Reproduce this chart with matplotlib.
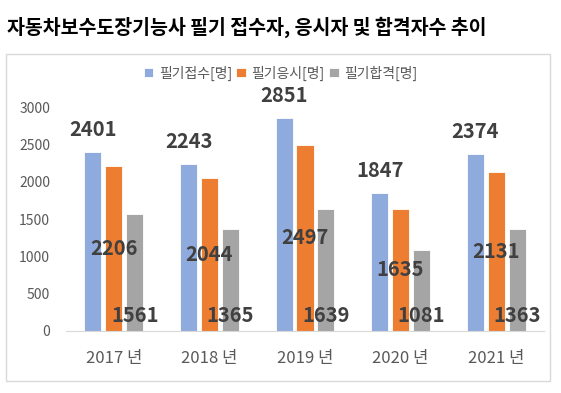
import numpy as np
import matplotlib.pyplot as plt
from matplotlib.patches import Rectangle

plt.rcParams['font.family'] = ['Noto Sans CJK KR', 'DejaVu Sans']

# 데이터
years = ['2017 년', '2018 년', '2019 년', '2020 년', '2021 년']
applied = [2401, 2243, 2851, 1847, 2374]   # 필기접수
tested = [2206, 2044, 2497, 1635, 2131]    # 필기응시
passed = [1561, 1365, 1639, 1081, 1363]    # 필기합격
series_names = ['필기접수[명]', '필기응시[명]', '필기합격[명]']
colors = ['#8FAADC', '#ED7D31', '#A5A5A5']

W, H = 561, 393
fig = plt.figure(figsize=(W / 100, H / 100), dpi=100)

# 차트 테두리
fig.patches.append(Rectangle((6 / W, 1 - 381 / H), 544 / W, 327 / H,
                             transform=fig.transFigure, fill=False,
                             edgecolor='#D9D9D9', linewidth=1))

fig.text(7 / W, 1 - 27 / H, '자동차보수도장기능사 필기 접수자, 응시자 및 합격자수 추이',
         fontsize=14, fontweight='bold', va='center', ha='left', color='black')

ax = fig.add_axes([66 / W, 1 - 331 / H, (544 - 66) / W, (331 - 107) / H])

x = np.arange(len(years))
width = 0.178
step = 0.218
label_color = '#404040'

bars = []
for i, (vals, name, c) in enumerate(zip([applied, tested, passed], series_names, colors)):
    b = ax.bar(x + (i - 1) * step, vals, width, color=c, label=name,
               edgecolor='white', linewidth=0.6)
    bars.append(b)

# 데이터 레이블
lbl = dict(fontsize=14.5, fontweight='bold', color=label_color, ha='center', va='center')
for rect, v in zip(bars[0], applied):
    ax.annotate(str(v), (rect.get_x() + rect.get_width() / 2, v),
                xytext=(0, 16), textcoords='offset points', annotation_clip=False, **lbl)
for rect, v in zip(bars[1], tested):
    ax.annotate(str(v), (rect.get_x() + rect.get_width() / 2, v / 2), **lbl)
for rect, v in zip(bars[2], passed):
    ax.annotate(str(v), (rect.get_x() + rect.get_width() / 2, 0),
                xytext=(0, 11.5), textcoords='offset points', **lbl)

ax.set_xlim(-0.5, 4.5)
ax.set_ylim(0, 3000)
ax.set_yticks(np.arange(0, 3001, 500))
ax.set_xticks(x)
ax.set_xticklabels(years)
ax.tick_params(axis='y', length=0, pad=11.5, labelsize=10, labelcolor='#595959')
ax.tick_params(axis='x', length=0, pad=13.5, labelsize=12, labelcolor='#595959')
for s in ['top', 'right', 'left']:
    ax.spines[s].set_visible(False)
ax.spines['bottom'].set_color('#D9D9D9')

fig.legend(loc='center', bbox_to_anchor=(0.5, 1 - 73 / H), ncol=3, frameon=False,
           fontsize=10, labelcolor='#595959', handlelength=0.7, handleheight=0.7,
           handletextpad=0.4, columnspacing=0.3)

fig.savefig('out.png', dpi=100)
